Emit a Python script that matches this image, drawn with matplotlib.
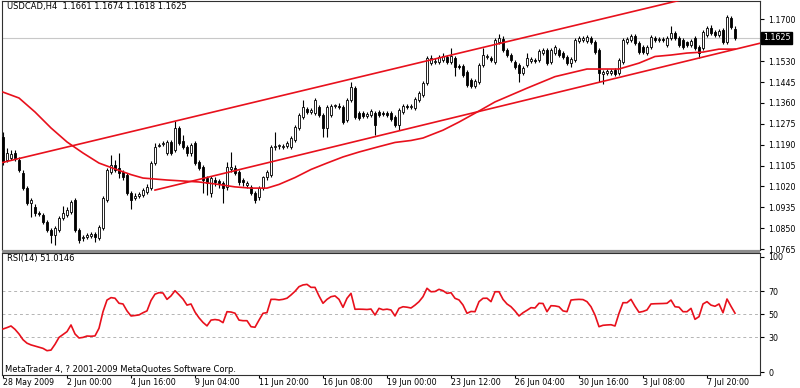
import matplotlib
matplotlib.use('Agg')
import matplotlib.pyplot as plt
from matplotlib.patches import Rectangle

plt.rcParams['font.family'] = ['DejaVu Sans']
plt.rcParams['font.size'] = 6

title_text = 'USDCAD,H4  1.1661 1.1674 1.1618 1.1625'
rsi_text = 'RSI(14) 51.0146'
footer_text = 'MetaTrader 4, ? 2001-2009 MetaQuotes Software Corp.'

# Bougies H4 (open / high / low / close)
opens = [
    1.1221, 1.1127, 1.1135, 1.1156, 1.1127, 1.1074, 1.1013, 1.0952, 1.0936, 1.0912,
    1.0904, 1.0875, 1.0843, 1.0822, 1.0843, 1.0891, 1.0904, 1.0916, 1.0965, 1.0843,
    1.0810, 1.0814, 1.0818, 1.0826, 1.0810, 1.0851, 1.0965, 1.1079, 1.1107, 1.1095,
    1.1079, 1.1066, 1.0993, 1.0973, 1.0981, 1.0985, 1.0997, 1.1013, 1.1115, 1.1184,
    1.1192, 1.1156, 1.1201, 1.1168, 1.1258, 1.1205, 1.1180, 1.1156, 1.1197, 1.1119,
    1.1099, 1.1054, 1.0993, 1.1046, 1.1042, 1.1034, 1.1018, 1.1091, 1.1095, 1.1079,
    1.1046, 1.1026, 1.1018, 1.0993, 1.0977, 1.1013, 1.1058, 1.1066, 1.1180, 1.1184,
    1.1180, 1.1184, 1.1180, 1.1209, 1.1258, 1.1302, 1.1335, 1.1323, 1.1319, 1.1343,
    1.1311, 1.1258, 1.1311, 1.1347, 1.1347, 1.1343, 1.1290, 1.1372, 1.1420, 1.1319,
    1.1319, 1.1306, 1.1311, 1.1319, 1.1323, 1.1319, 1.1319, 1.1319, 1.1302, 1.1270,
    1.1323, 1.1347, 1.1343, 1.1339, 1.1372, 1.1392, 1.1441, 1.1522, 1.1526, 1.1526,
    1.1534, 1.1547, 1.1526, 1.1543, 1.1510, 1.1510, 1.1486, 1.1453, 1.1429, 1.1445,
    1.1514, 1.1547, 1.1543, 1.1526, 1.1608, 1.1620, 1.1575, 1.1555, 1.1526, 1.1514,
    1.1482, 1.1514, 1.1530, 1.1534, 1.1534, 1.1563, 1.1575, 1.1526, 1.1563, 1.1575,
    1.1563, 1.1547, 1.1522, 1.1534, 1.1612, 1.1616, 1.1612, 1.1624, 1.1608, 1.1575,
    1.1477, 1.1482, 1.1482, 1.1494, 1.1482, 1.1526, 1.1608, 1.1616, 1.1632, 1.1604,
    1.1587, 1.1563, 1.1587, 1.1624, 1.1616, 1.1620, 1.1596, 1.1624, 1.1644, 1.1624,
    1.1616, 1.1608, 1.1596, 1.1624, 1.1587, 1.1583, 1.1636, 1.1665, 1.1648, 1.1636,
    1.1657, 1.1608, 1.1705, 1.1661,
]
highs = [
    1.1241, 1.1176, 1.1168, 1.1168, 1.1140, 1.1087, 1.1022, 1.0973, 1.0948, 1.0920,
    1.0912, 1.0883, 1.0851, 1.0859, 1.0900, 1.0940, 1.0936, 1.0965, 1.0973, 1.0851,
    1.0822, 1.0830, 1.0835, 1.0835, 1.0863, 1.0981, 1.1095, 1.1148, 1.1127, 1.1156,
    1.1087, 1.1074, 1.1001, 1.0993, 1.0997, 1.1013, 1.1030, 1.1123, 1.1197, 1.1197,
    1.1205, 1.1209, 1.1209, 1.1286, 1.1266, 1.1229, 1.1188, 1.1197, 1.1205, 1.1127,
    1.1107, 1.1062, 1.1062, 1.1058, 1.1050, 1.1042, 1.1119, 1.1160, 1.1107, 1.1087,
    1.1054, 1.1042, 1.1026, 1.1001, 1.1022, 1.1062, 1.1087, 1.1188, 1.1241, 1.1192,
    1.1192, 1.1205, 1.1225, 1.1270, 1.1319, 1.1372, 1.1343, 1.1339, 1.1380, 1.1351,
    1.1319, 1.1351, 1.1355, 1.1355, 1.1359, 1.1351, 1.1380, 1.1445, 1.1429, 1.1327,
    1.1327, 1.1323, 1.1335, 1.1327, 1.1331, 1.1327, 1.1327, 1.1327, 1.1311, 1.1339,
    1.1355, 1.1355, 1.1355, 1.1384, 1.1408, 1.1449, 1.1551, 1.1555, 1.1543, 1.1555,
    1.1563, 1.1555, 1.1583, 1.1551, 1.1518, 1.1518, 1.1494, 1.1461, 1.1457, 1.1522,
    1.1583, 1.1559, 1.1551, 1.1624, 1.1640, 1.1632, 1.1583, 1.1563, 1.1534, 1.1522,
    1.1510, 1.1563, 1.1547, 1.1543, 1.1579, 1.1583, 1.1583, 1.1583, 1.1596, 1.1583,
    1.1571, 1.1555, 1.1547, 1.1624, 1.1632, 1.1632, 1.1636, 1.1632, 1.1616, 1.1583,
    1.1494, 1.1498, 1.1498, 1.1502, 1.1543, 1.1624, 1.1628, 1.1640, 1.1640, 1.1612,
    1.1596, 1.1596, 1.1636, 1.1632, 1.1628, 1.1628, 1.1632, 1.1673, 1.1652, 1.1632,
    1.1624, 1.1612, 1.1620, 1.1632, 1.1596, 1.1657, 1.1673, 1.1677, 1.1657, 1.1661,
    1.1665, 1.1718, 1.1713, 1.1674,
]
lows = [
    1.1107, 1.1119, 1.1127, 1.1123, 1.1079, 1.1005, 1.0944, 1.0896, 1.0900, 1.0900,
    1.0867, 1.0835, 1.0790, 1.0782, 1.0835, 1.0883, 1.0896, 1.0908, 1.0835, 1.0790,
    1.0798, 1.0806, 1.0810, 1.0794, 1.0802, 1.0843, 1.0957, 1.1070, 1.1079, 1.1054,
    1.1046, 1.0985, 1.0928, 1.0965, 1.0973, 1.0977, 1.0989, 1.1005, 1.1107, 1.1180,
    1.1184, 1.1148, 1.1148, 1.1160, 1.1188, 1.1172, 1.1144, 1.1144, 1.1107, 1.1087,
    1.0993, 1.0985, 1.0977, 1.1022, 1.1013, 1.0952, 1.1005, 1.1079, 1.1066, 1.1026,
    1.1022, 1.1013, 1.0985, 1.0952, 1.0965, 1.1005, 1.1046, 1.1058, 1.1168, 1.1172,
    1.1172, 1.1176, 1.1172, 1.1201, 1.1249, 1.1294, 1.1315, 1.1315, 1.1311, 1.1302,
    1.1221, 1.1221, 1.1302, 1.1339, 1.1335, 1.1274, 1.1282, 1.1363, 1.1294, 1.1290,
    1.1298, 1.1298, 1.1302, 1.1229, 1.1302, 1.1306, 1.1302, 1.1286, 1.1262, 1.1249,
    1.1315, 1.1335, 1.1335, 1.1331, 1.1363, 1.1384, 1.1433, 1.1514, 1.1518, 1.1518,
    1.1526, 1.1518, 1.1518, 1.1469, 1.1498, 1.1465, 1.1425, 1.1420, 1.1420, 1.1437,
    1.1506, 1.1539, 1.1526, 1.1518, 1.1600, 1.1567, 1.1547, 1.1526, 1.1498, 1.1445,
    1.1473, 1.1506, 1.1522, 1.1522, 1.1526, 1.1555, 1.1514, 1.1518, 1.1555, 1.1547,
    1.1539, 1.1514, 1.1506, 1.1526, 1.1604, 1.1608, 1.1604, 1.1600, 1.1559, 1.1445,
    1.1437, 1.1473, 1.1473, 1.1469, 1.1473, 1.1518, 1.1600, 1.1608, 1.1596, 1.1559,
    1.1559, 1.1555, 1.1579, 1.1608, 1.1608, 1.1608, 1.1587, 1.1616, 1.1616, 1.1587,
    1.1579, 1.1587, 1.1587, 1.1575, 1.1543, 1.1575, 1.1628, 1.1636, 1.1628, 1.1628,
    1.1600, 1.1600, 1.1661, 1.1618,
]
closes = [
    1.1119, 1.1156, 1.1152, 1.1135, 1.1087, 1.1013, 1.0952, 1.0965, 1.0912, 1.0908,
    1.0875, 1.0843, 1.0822, 1.0851, 1.0891, 1.0912, 1.0924, 1.0957, 1.0843, 1.0802,
    1.0814, 1.0822, 1.0826, 1.0814, 1.0855, 1.0973, 1.1087, 1.1107, 1.1087, 1.1074,
    1.1058, 1.0993, 1.0965, 1.0981, 1.0989, 1.1005, 1.1018, 1.1115, 1.1180, 1.1188,
    1.1197, 1.1201, 1.1156, 1.1258, 1.1197, 1.1180, 1.1156, 1.1188, 1.1115, 1.1095,
    1.1046, 1.1034, 1.1054, 1.1038, 1.1034, 1.1013, 1.1099, 1.1099, 1.1074, 1.1038,
    1.1038, 1.1034, 1.0993, 1.0965, 1.1013, 1.1058, 1.1079, 1.1180, 1.1184, 1.1188,
    1.1184, 1.1197, 1.1217, 1.1262, 1.1311, 1.1343, 1.1323, 1.1331, 1.1372, 1.1311,
    1.1258, 1.1343, 1.1347, 1.1351, 1.1343, 1.1282, 1.1372, 1.1425, 1.1302, 1.1298,
    1.1306, 1.1315, 1.1327, 1.1270, 1.1311, 1.1315, 1.1311, 1.1294, 1.1270, 1.1331,
    1.1347, 1.1343, 1.1347, 1.1376, 1.1400, 1.1441, 1.1543, 1.1543, 1.1530, 1.1547,
    1.1551, 1.1526, 1.1551, 1.1506, 1.1506, 1.1473, 1.1433, 1.1429, 1.1449, 1.1514,
    1.1555, 1.1551, 1.1534, 1.1616, 1.1624, 1.1575, 1.1555, 1.1534, 1.1506, 1.1482,
    1.1502, 1.1543, 1.1539, 1.1530, 1.1571, 1.1575, 1.1522, 1.1575, 1.1587, 1.1555,
    1.1547, 1.1522, 1.1539, 1.1616, 1.1624, 1.1624, 1.1628, 1.1608, 1.1567, 1.1482,
    1.1486, 1.1490, 1.1490, 1.1477, 1.1534, 1.1616, 1.1620, 1.1632, 1.1604, 1.1567,
    1.1567, 1.1587, 1.1628, 1.1616, 1.1620, 1.1616, 1.1624, 1.1644, 1.1624, 1.1596,
    1.1587, 1.1596, 1.1612, 1.1583, 1.1563, 1.1648, 1.1665, 1.1644, 1.1636, 1.1652,
    1.1608, 1.1709, 1.1669, 1.1625,
]

# moyenne mobile
ma_idx = [0, 4, 8, 12, 16, 20, 24, 28, 32, 35, 41, 45, 49, 53, 58, 62, 66, 69, 73, 77,
          81, 85, 89, 94, 98, 102, 105, 110, 114, 119, 123, 127, 131, 138, 146, 154,
          159, 163, 167, 171, 175, 179, 183]
ma_val = [1.1404, 1.1380, 1.1323, 1.1258, 1.1201, 1.1156, 1.1115, 1.1091, 1.1068, 1.1054,
          1.1046, 1.1042, 1.1038, 1.1030, 1.1018, 1.1013, 1.1013, 1.1028, 1.1056, 1.1089,
          1.1115, 1.1140, 1.1160, 1.1182, 1.1199, 1.1207, 1.1217, 1.1249, 1.1282, 1.1327,
          1.1364, 1.1392, 1.1420, 1.1467, 1.1498, 1.1498, 1.1522, 1.1549, 1.1555, 1.1563,
          1.1567, 1.1579, 1.1579]

# canal
upper_idx = [-1, 190]
upper_val = [1.1114, 1.1859]
lower_idx = [38, 190]
lower_val = [1.1005, 1.1606]

last_price = 1.1625

rsi = [
    37.3, 38.5, 39.9, 37.0, 33.0, 28.0, 25.0, 23.5, 22.5, 21.5,
    20.5, 18.5, 19.0, 24.0, 30.0, 32.5, 35.0, 40.8, 33.0, 29.5,
    30.0, 31.2, 31.0, 31.3, 37.9, 52.3, 62.4, 64.5, 64.0, 59.6,
    59.0, 53.0, 48.6, 49.0, 49.5, 51.4, 53.0, 62.0, 67.5, 68.8,
    68.5, 63.0, 66.0, 70.5, 67.0, 63.3, 58.0, 59.0, 52.0, 47.0,
    43.0, 40.0, 45.0, 45.5, 45.0, 42.8, 52.3, 52.0, 51.0, 45.0,
    44.5, 44.5, 39.3, 38.8, 45.0, 50.9, 51.5, 63.0, 63.0, 62.5,
    63.0, 64.0, 66.8, 70.0, 74.0, 75.5, 76.0, 73.4, 73.4, 66.0,
    59.6, 63.0, 65.3, 66.0, 63.0, 56.1, 63.9, 68.2, 54.4, 54.5,
    54.4, 54.2, 54.6, 49.4, 55.2, 54.0, 54.5, 53.8, 48.6, 55.2,
    56.6, 56.2, 55.5, 58.0, 61.0, 65.3, 72.6, 69.6, 69.8, 71.7,
    70.5, 68.2, 68.8, 63.9, 62.5, 58.1, 50.9, 52.5, 52.3, 61.0,
    63.9, 64.0, 61.0, 69.6, 69.6, 63.0, 59.0, 56.6, 52.9, 48.6,
    51.4, 53.5, 55.8, 55.5, 59.6, 59.4, 52.3, 57.5, 57.3, 56.6,
    53.0, 52.3, 62.4, 62.8, 63.0, 62.8, 61.0, 56.6, 49.4, 39.3,
    40.5, 40.8, 41.0, 39.9, 50.9, 60.1, 60.1, 63.0, 57.0, 51.8,
    52.5, 53.8, 59.0, 59.2, 59.3, 59.4, 59.6, 62.4, 56.6, 56.2,
    52.3, 52.3, 55.2, 45.7, 48.0, 59.0, 61.0, 58.0, 57.0, 59.0,
    51.4, 63.3, 57.0, 51.0146,
]

price_ticks = [1.0765, 1.0850, 1.0935, 1.1020, 1.1105, 1.1190, 1.1275, 1.1360, 1.1445, 1.1530, 1.1700]
rsi_ticks = [0, 30, 50, 70, 100]
rsi_levels = [30, 50, 70]
date_pos = [0, 16, 32, 48, 64, 80, 96, 112, 128, 144, 160, 176]
date_labels = ['28 May 2009', '2 Jun 00:00', '4 Jun 16:00', '9 Jun 04:00', '11 Jun 20:00',
               '16 Jun 08:00', '19 Jun 00:00', '23 Jun 12:00', '26 Jun 04:00',
               '30 Jun 16:00', '3 Jul 08:00', '7 Jul 20:00']

RED = '#e8101c'

fig = plt.figure(figsize=(8, 3.88), dpi=100)
ax = fig.add_axes([2/800, 1 - 250/388, 758/800, 249/388])
ax2 = fig.add_axes([2/800, 1 - 375/388, 758/800, 122/388])

# séparateur gris entre les deux fenêtres
fig.patches.append(Rectangle((2/800, 1 - 253/388), 758/800, 3/388, transform=fig.transFigure,
                             facecolor='#8c8c8c', edgecolor='none'))

x = list(range(len(closes)))
bottoms = [min(o, c) for o, c in zip(opens, closes)]
heights = [max(abs(c - o), 0.00004) for o, c in zip(opens, closes)]
body_colors = ['white' if c >= o else 'black' for o, c in zip(opens, closes)]

ax.axhline(last_price, color='#c8c8c8', linewidth=0.8, zorder=1)
ax.vlines(x, lows, highs, color='black', linewidth=0.8, zorder=2)
ax.bar(x, heights, bottom=bottoms, width=0.62, color=body_colors,
       edgecolor='black', linewidth=0.6, zorder=3)

ax.plot(ma_idx, ma_val, color=RED, linewidth=1.2, zorder=4)
ax.plot(upper_idx, upper_val, color=RED, linewidth=1.2, zorder=4)
ax.plot(lower_idx, lower_val, color=RED, linewidth=1.2, zorder=4)

ax.set_xlim(-0.25, 189.25)
ax.set_ylim(1.0761, 1.1775)
ax.set_xticks([])
ax.yaxis.tick_right()
ax.set_yticks(price_ticks)
ax.set_yticklabels(['%.4f' % p for p in price_ticks])
ax.tick_params(axis='y', length=3, width=0.8, pad=3, labelsize=5.7)

ax.text(1.0035, last_price, '%.4f' % last_price, transform=ax.get_yaxis_transform(),
        ha='left', va='center', fontsize=5.7, color='white', clip_on=False,
        bbox=dict(boxstyle='square,pad=0.2', facecolor='black', edgecolor='black'))
ax.text(5/758, 1 - 5/249, title_text, transform=ax.transAxes, ha='left', va='center', fontsize=6)

# RSI
ax2.plot(x, rsi, color=RED, linewidth=1.2, zorder=3)
for lvl in rsi_levels:
    ax2.axhline(lvl, color='#b4b4b4', linewidth=0.7, linestyle=(0, (3, 3)), zorder=1)
ax2.set_xlim(-0.25, 189.25)
ax2.set_ylim(-2.6, 103.2)
ax2.yaxis.tick_right()
ax2.set_yticks(rsi_ticks)
ax2.set_yticklabels([str(t) for t in rsi_ticks])
ax2.tick_params(axis='y', length=3, width=0.8, pad=3, labelsize=5.7)
ax2.set_xticks(date_pos)
ax2.set_xticklabels(date_labels, ha='left')
ax2.tick_params(axis='x', length=2, width=0.8, pad=0.5, labelsize=5.7)
ax2.text(5/758, 1 - 5/122, rsi_text, transform=ax2.transAxes, ha='left', va='center', fontsize=6)
ax2.text(3/758, 0.045, footer_text, transform=ax2.transAxes, ha='left', va='center', fontsize=6)

for a in (ax, ax2):
    for s in a.spines.values():
        s.set_color('#303030')
        s.set_linewidth(0.8)

fig.savefig('out.png', dpi=100)
